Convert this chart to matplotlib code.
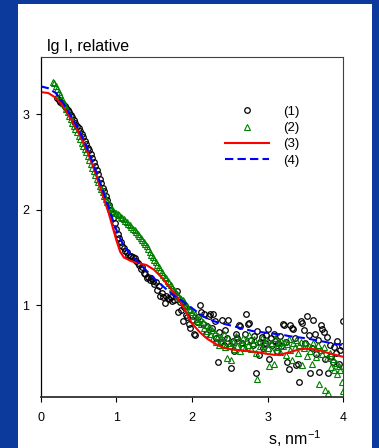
import matplotlib
matplotlib.use("Agg")
import matplotlib.pyplot as plt
from matplotlib.patches import Rectangle

plt.rcParams["font.family"] = ["Liberation Sans", "DejaVu Sans"]
plt.rcParams["mathtext.fontset"] = "custom"
plt.rcParams["mathtext.rm"] = "Liberation Sans"

# experimental s grid, nm^-1 (curve 2 starts at 0.16, curve 1 at 0.22)
s_exp = [
    0.16, 0.18, 0.20, 0.22, 0.24, 0.26, 0.28, 0.30, 0.32, 0.34,
    0.36, 0.38, 0.40, 0.42, 0.44, 0.46, 0.48, 0.50, 0.52, 0.54,
    0.56, 0.58, 0.60, 0.62, 0.64, 0.66, 0.68, 0.70, 0.72, 0.74,
    0.76, 0.78, 0.80, 0.82, 0.84, 0.86, 0.88, 0.90, 0.92, 0.94,
    0.96, 0.98, 1.00, 1.02, 1.04, 1.06, 1.08, 1.10, 1.12, 1.14,
    1.16, 1.18, 1.20, 1.22, 1.24, 1.26, 1.28, 1.30, 1.32, 1.34,
    1.36, 1.38, 1.40, 1.42, 1.44, 1.46, 1.48, 1.50, 1.52, 1.54,
    1.56, 1.58, 1.60, 1.62, 1.64, 1.66, 1.68, 1.70, 1.72, 1.74,
    1.76, 1.78, 1.80, 1.82, 1.84, 1.86, 1.88, 1.90, 1.92, 1.94,
    1.96, 1.98, 2.00, 2.02, 2.04, 2.06, 2.08, 2.10, 2.12, 2.14,
    2.16, 2.18, 2.20, 2.22, 2.24, 2.26, 2.28, 2.30, 2.32, 2.34,
    2.36, 2.38, 2.40, 2.42, 2.44, 2.46, 2.48, 2.50, 2.52, 2.54,
    2.56, 2.58, 2.60, 2.62, 2.64, 2.66, 2.68, 2.70, 2.72, 2.74,
    2.76, 2.78, 2.80, 2.82, 2.84, 2.86, 2.88, 2.90, 2.92, 2.94,
    2.96, 2.98, 3.00, 3.02, 3.04, 3.06, 3.08, 3.10, 3.12, 3.14,
    3.16, 3.18, 3.20, 3.22, 3.24, 3.26, 3.28, 3.30, 3.32, 3.34,
    3.36, 3.38, 3.40, 3.42, 3.44, 3.46, 3.48, 3.50, 3.52, 3.54,
    3.56, 3.58, 3.60, 3.62, 3.64, 3.66, 3.68, 3.70, 3.72, 3.74,
    3.76, 3.78, 3.80, 3.82, 3.84, 3.86, 3.88, 3.90, 3.92, 3.94,
    3.96, 3.98, 4.00,
]

# (2) green triangles, same length as s_exp
lg_i_2 = [
    3.34, 3.32, 3.29, 3.26, 3.23, 3.20, 3.16, 3.12, 3.09, 3.05,
    3.02, 2.98, 2.95, 2.91, 2.88, 2.84, 2.81, 2.77, 2.74, 2.70,
    2.67, 2.63, 2.60, 2.56, 2.52, 2.48, 2.44, 2.40, 2.36, 2.32,
    2.29, 2.25, 2.22, 2.18, 2.14, 2.11, 2.08, 2.05, 2.03, 2.01,
    1.99, 1.97, 1.96, 1.95, 1.94, 1.92, 1.91, 1.90, 1.88, 1.87,
    1.85, 1.84, 1.82, 1.80, 1.79, 1.77, 1.74, 1.72, 1.70, 1.68,
    1.66, 1.64, 1.62, 1.59, 1.56, 1.53, 1.50, 1.47, 1.45, 1.42,
    1.40, 1.37, 1.35, 1.32, 1.30, 1.28, 1.25, 1.23, 1.21, 1.18,
    1.16, 1.14, 1.12, 1.10, 1.08, 1.06, 1.05, 1.03, 1.00, 0.99,
    0.96, 0.95, 0.93, 0.89, 0.91, 0.86, 0.84, 0.87, 0.80, 0.82,
    0.76, 0.79, 0.73, 0.77, 0.70, 0.74, 0.66, 0.71, 0.62, 0.68,
    0.58, 0.66, 0.63, 0.70, 0.56, 0.45, 0.66, 0.60, 0.43, 0.62,
    0.54, 0.68, 0.57, 0.64, 0.52, 0.61, 0.66, 0.55, 0.63, 0.58,
    0.69, 0.54, 0.60, 0.65, 0.50, 0.23, 0.62, 0.57, 0.66, 0.53,
    0.59, 0.64, 0.55, 0.36, 0.61, 0.52, 0.39, 0.66, 0.56, 0.60,
    0.51, 0.63, 0.57, 0.62, 0.48, 0.59, 0.65, 0.53, 0.43, 0.60,
    0.56, 0.64, 0.50, 0.58, 0.62, 0.37, 0.55, 0.60, 0.47, 0.57,
    0.52, 0.39, 0.61, 0.55, 0.46, 0.58, 0.18, 0.53, 0.49, 0.56,
    0.11, 0.45, 0.08, 0.50, 0.35, 0.44, 0.32, 0.40, 0.28, 0.36,
    0.32, 0.20, 0.10,
]

# (1) black circles, from s = 0.22
lg_i_1 = [
    3.17, 3.15, 3.13, 3.12, 3.10, 3.08, 3.06, 3.04, 3.02, 2.99,
    2.97, 2.94, 2.91, 2.88, 2.85, 2.82, 2.79, 2.76, 2.72, 2.69,
    2.65, 2.62, 2.58, 2.54, 2.50, 2.46, 2.41, 2.37, 2.32, 2.28,
    2.23, 2.19, 2.14, 2.10, 2.05, 2.00, 1.96, 1.91, 1.86, 1.80,
    1.74, 1.70, 1.66, 1.62, 1.60, 1.57, 1.56, 1.53, 1.52, 1.51,
    1.50, 1.49, 1.46, 1.44, 1.42, 1.38, 1.40, 1.34, 1.33, 1.29,
    1.30, 1.26, 1.28, 1.25, 1.22, 1.24, 1.16, 1.20, 1.10, 1.13,
    1.09, 1.02, 1.10, 1.08, 1.06, 1.09, 1.04, 1.05, 1.12, 1.15,
    0.93, 1.03, 0.95, 0.83, 0.98, 0.90, 0.88, 0.80, 0.76, 0.85,
    0.70, 0.69, 0.82, 0.88, 1.00, 0.93, 0.80, 0.91, 0.70, 0.78,
    0.89, 0.91, 0.76, 0.91, 0.84, 0.66, 0.41, 0.72, 0.62, 0.85,
    0.58, 0.74, 0.66, 0.85, 0.57, 0.34, 0.63, 0.52, 0.70, 0.66,
    0.79, 0.78, 0.60, 0.55, 0.70, 0.91, 0.80, 0.81, 0.64, 0.58,
    0.68, 0.29, 0.73, 0.48, 0.62, 0.67, 0.55, 0.60, 0.69, 0.75,
    0.44, 0.66, 0.58, 0.70, 0.63, 0.52, 0.61, 0.68, 0.57, 0.80,
    0.79, 0.62, 0.41, 0.33, 0.79, 0.76, 0.75, 0.66, 0.37, 0.39,
    0.20, 0.84, 0.81, 0.74, 0.60, 0.89, 0.69, 0.29, 0.55, 0.85,
    0.70, 0.49, 0.64, 0.30, 0.79, 0.75, 0.72, 0.44, 0.67, 0.29,
    0.58, 0.47, 0.41, 0.56, 0.50, 0.63, 0.39, 0.53, 0.57, 0.83,
]
s_1 = s_exp[3:]

# model curves
s_fit = [0.0, 0.1, 0.2, 0.3, 0.4, 0.5, 0.6, 0.7, 0.8, 0.9, 0.95, 1.0, 1.05,
         1.1, 1.2, 1.3, 1.4, 1.5, 1.6, 1.7, 1.8, 1.9, 2.0,
         2.1, 2.2, 2.3, 2.4, 2.5, 2.6, 2.7, 2.8, 2.9, 3.0,
         3.1, 3.2, 3.3, 3.4, 3.5, 3.6, 3.7, 3.8, 3.9, 4.0]
lg_i_3 = [3.23, 3.22, 3.17, 3.08, 2.95, 2.81, 2.64, 2.44, 2.20, 1.96, 1.82, 1.68, 1.56,
          1.50, 1.46, 1.44, 1.42, 1.37, 1.29, 1.19, 1.09, 0.96, 0.81,
          0.72, 0.65, 0.60, 0.56, 0.54, 0.53, 0.525, 0.515, 0.505, 0.49,
          0.48, 0.49, 0.51, 0.535, 0.545, 0.54, 0.525, 0.50, 0.48, 0.46]
lg_i_4 = [3.29, 3.27, 3.22, 3.11, 2.98, 2.84, 2.67, 2.47, 2.25, 2.02, 1.90, 1.79, 1.70,
          1.62, 1.52, 1.44, 1.36, 1.28, 1.21, 1.14, 1.08, 1.03, 0.97,
          0.91, 0.86, 0.83, 0.81, 0.79, 0.77, 0.75, 0.73, 0.72, 0.71,
          0.70, 0.69, 0.675, 0.665, 0.655, 0.64, 0.625, 0.61, 0.595, 0.58]

W, H = 379, 448
fig = plt.figure(figsize=(W / 100, H / 100), dpi=100, facecolor="#0b3a9c")
# white slide panel behind the chart
fig.patches.append(Rectangle((18 / W, 0), 354 / W, 444 / H, transform=fig.transFigure,
                             facecolor="white", edgecolor="none", zorder=-10))

ax = fig.add_axes([40.7 / W, 1 - 397 / H, 302.6 / W, 340.3 / H])
ax.set_zorder(1)
ax.plot(s_1, lg_i_1, "o", mfc="none", mec="black", ms=4, mew=0.9, label="(1)")
ax.plot(s_exp, lg_i_2, "^", mfc="none", mec="#008000", ms=4.2, mew=0.8, label="(2)")
ax.plot(s_fit, lg_i_3, "-", color="red", lw=1.5, label="(3)")
ax.plot(s_fit, lg_i_4, "--", color="blue", lw=1.5, dashes=(4, 2), label="(4)")

ax.set_xlim(0, 4)
ax.set_ylim(0.04, 3.6)
ax.set_xticks([0, 1, 2, 3, 4])
ax.set_yticks([1, 2, 3])
ax.tick_params(direction="out", length=3.6, width=0.8, labelsize=9, colors="black")
ax.tick_params(axis="x", pad=7)
ax.tick_params(axis="y", pad=4.8)
ax.spines["left"].set_linewidth(0.9)
ax.spines["bottom"].set_linewidth(1.3)
ax.spines["bottom"].set_color("#303030")
for side in ["top", "right"]:
    ax.spines[side].set_linewidth(0.8)
    ax.spines[side].set_color("#404040")

ax.legend(loc="upper left", bbox_to_anchor=(0.609, 0.856), frameon=False, fontsize=9.5,
          handlelength=3.3, handletextpad=1.1, labelspacing=0.3, borderpad=0, borderaxespad=0)

fig.text(46.7 / W, 1 - 51 / H, "lg I, relative", fontsize=11.5, va="baseline")
fig.text(322 / W, 1 - 445 / H, r"s, nm$^{\mathregular{-1}}$", fontsize=11.5, ha="right", va="baseline")

fig.savefig("out.png", dpi=100, facecolor=fig.get_facecolor())
